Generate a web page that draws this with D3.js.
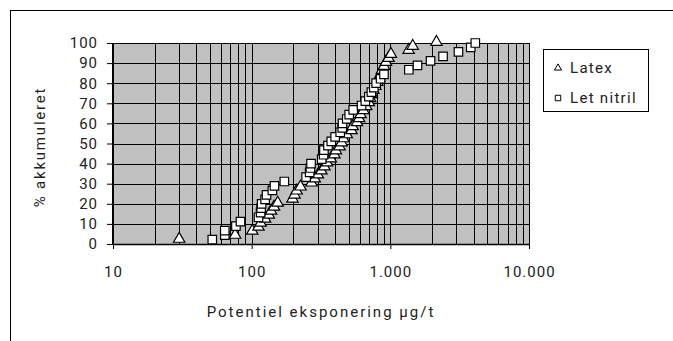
<!DOCTYPE html>
<html>
<head>
<meta charset="utf-8">
<script src="https://cdn.jsdelivr.net/npm/d3@7"></script>
<style>
  body { margin: 0; background: #fff; }
  text { font-family: Roboto, "Liberation Sans", sans-serif; fill: #222; }
</style>
</head>
<body>
<svg class="chart" width="673" height="341"></svg>
<script>
// cumulative share (%) vs. potential exposure (µg/t)
var latexPct = [2, 4, 6, 8, 10, 12, 14, 16, 18, 20, 22, 24, 26, 28, 30, 32, 34, 36, 38, 40,
  42, 44, 46, 48, 50, 52, 54, 56, 58, 60, 62, 64, 66, 68, 70, 72, 74, 76, 78, 80,
  82, 84, 86, 88, 90, 92, 94, 96, 98, 100];
var latexVal = [30, 76, 101, 112, 116, 125, 133, 138, 145, 154, 197, 204, 211, 225, 270, 285, 300, 318, 335, 350,
  372, 395, 405, 430, 445, 458, 485, 525, 535, 575, 595, 610, 640, 670, 700, 715, 735, 755, 780, 805,
  830, 850, 870, 900, 930, 970, 1010, 1355, 1450, 2150];

var nitrilPct = [2.2, 4.4, 6.7, 8.9, 11.1, 13.3, 15.6, 17.8, 20, 22.2, 24.4, 26.7, 28.9, 31.1, 33.3,
  35.6, 37.8, 40, 42.2, 44.4, 46.7, 48.9, 51.1, 53.3, 55.6, 57.8, 60, 62.2, 64.4, 66.7,
  68.9, 71.1, 73.3, 75.6, 77.8, 80, 82.2, 84.4, 86.7, 88.9, 91.1, 93.3, 95.6, 97.8, 100];
var nitrilVal = [52, 64, 64, 77, 83, 112, 116, 117, 118, 125, 128, 141, 146, 172, 247,
  262, 265, 268, 320, 330, 332, 355, 375, 400, 435, 450, 452, 485, 505, 540,
  620, 660, 700, 730, 760, 790, 850, 900, 1360, 1570, 1950, 2400, 3100, 3800, 4100];

var xTicks = [10, 100, 1000, 10000];
var xTickLabels = ["10", "100", "1.000", "10.000"];
var yTicks = [0, 10, 20, 30, 40, 50, 60, 70, 80, 90, 100];
var seriesNames = ["Latex", "Let nitril"];

var svg = d3.select(".chart");

// outer chart frame (runs off the right and bottom edge)
svg.append("rect")
  .attr("x", 10.5).attr("y", 10.5)
  .attr("width", 700).attr("height", 360)
  .attr("fill", "none").attr("stroke", "#000").attr("stroke-width", 1);

var pLeft = 113, pTop = 43, pRight = 529, pBottom = 244;

var x = d3.scaleLog().domain([10, 10000]).range([pLeft, pRight]);
var y = d3.scaleLinear().domain([0, 100]).range([pBottom, pTop]);

svg.append("rect")
  .attr("x", pLeft).attr("y", pTop)
  .attr("width", pRight - pLeft).attr("height", pBottom - pTop)
  .attr("fill", "#c0c0c0");

// minor grid: 20,30,...,100,200,...
var gridX = [];
for (var d = 10; d < 10000; d *= 10) {
  for (var k = 2; k <= 10; k++) gridX.push(d * k);
}

var grid = svg.append("g").attr("stroke", "#000").attr("stroke-width", 1);

grid.selectAll(".gx").data(gridX).enter().append("line")
  .attr("x1", function(d) { return Math.round(x(d)) + 0.5; })
  .attr("x2", function(d) { return Math.round(x(d)) + 0.5; })
  .attr("y1", pTop).attr("y2", pBottom);

grid.selectAll(".gy").data(yTicks.slice(1)).enter().append("line")
  .attr("x1", pLeft).attr("x2", pRight)
  .attr("y1", function(d) { return Math.round(y(d)) + 0.5; })
  .attr("y2", function(d) { return Math.round(y(d)) + 0.5; });

// axes
var xAxis = svg.append("g")
  .attr("transform", "translate(0," + pBottom + ")")
  .call(d3.axisBottom(x).tickValues(xTicks).tickSize(5).tickPadding(17)
    .tickFormat(function(d, i) { return xTickLabels[i]; }));

var yAxis = svg.append("g")
  .attr("transform", "translate(" + pLeft + ",0)")
  .call(d3.axisLeft(y).tickValues(yTicks).tickSize(6).tickPadding(9));

[xAxis, yAxis].forEach(function(a) {
  a.select(".domain").remove();
  a.selectAll("line").attr("stroke", "#000");
  a.selectAll("text").attr("fill", "#222")
    .style("font-size", "15px").style("letter-spacing", "1px");
});

svg.append("line")
  .attr("x1", pLeft).attr("x2", pRight + 1)
  .attr("y1", pBottom + 0.5).attr("y2", pBottom + 0.5)
  .attr("stroke", "#000").attr("stroke-width", 1.5);
svg.append("line")
  .attr("x1", pLeft).attr("x2", pLeft)
  .attr("y1", pTop).attr("y2", pBottom + 1)
  .attr("stroke", "#000").attr("stroke-width", 2);

// axis titles
svg.append("text")
  .attr("x", 321).attr("y", 317)
  .attr("text-anchor", "middle")
  .style("font-size", "15px").style("letter-spacing", "2px")
  .text("Potentiel eksponering µg/t");

svg.append("text")
  .attr("transform", "translate(45,147) rotate(-90)")
  .attr("text-anchor", "middle")
  .style("font-size", "15px").style("letter-spacing", "1.8px")
  .text("% akkumuleret");

// markers
var tri = d3.symbol().type(d3.symbolTriangle).size(56);
var sq = d3.symbol().type(d3.symbolSquare).size(72);

var latex = latexVal.map(function(v, i) { return [v, latexPct[i]]; });
var nitril = nitrilVal.map(function(v, i) { return [v, nitrilPct[i]]; });

svg.append("g").selectAll("path").data(latex).enter().append("path")
  .attr("d", tri)
  .attr("transform", function(d) { return "translate(" + x(d[0]) + "," + (y(d[1]) - 1) + ")"; })
  .attr("fill", "#fff").attr("stroke", "#000").attr("stroke-width", 1.2);

svg.append("g").selectAll("path").data(nitril).enter().append("path")
  .attr("d", sq)
  .attr("transform", function(d) { return "translate(" + x(d[0]) + "," + y(d[1]) + ")"; })
  .attr("fill", "#fff").attr("stroke", "#000").attr("stroke-width", 1.2);

// legend
var legend = svg.append("g").attr("transform", "translate(543,49)");
legend.append("rect")
  .attr("x", 0.5).attr("y", 0.5).attr("width", 105).attr("height", 62)
  .attr("fill", "#fff").attr("stroke", "#000");

var legendMarks = [d3.symbol().type(d3.symbolTriangle).size(22), d3.symbol().type(d3.symbolSquare).size(30)];
seriesNames.forEach(function(name, i) {
  var row = legend.append("g").attr("transform", "translate(0," + (19 + i * 30) + ")");
  row.append("path")
    .attr("d", legendMarks[i])
    .attr("transform", "translate(15,0)")
    .attr("fill", "#fff").attr("stroke", "#000").attr("stroke-width", 1);
  row.append("text")
    .attr("x", 27).attr("y", 5)
    .style("font-size", "15px").style("letter-spacing", "1.3px")
    .text(name);
});
</script>
</body>
</html>
